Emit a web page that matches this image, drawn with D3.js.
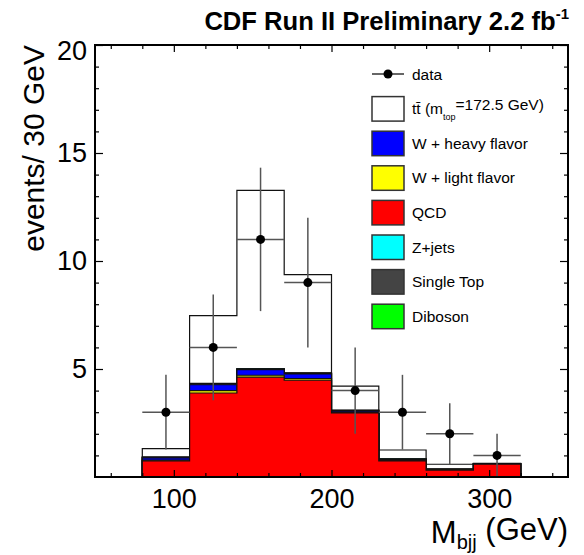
<!DOCTYPE html>
<html>
<head>
<meta charset="utf-8">
<script src="https://cdn.jsdelivr.net/npm/d3@7"></script>
<style>
  body { margin: 0; background: #fff; }
  svg { font-family: "Liberation Sans", Arial, sans-serif; }
</style>
</head>
<body>
<div id="chart"></div>
<script>
// bins of 30 GeV, lower edges
var binLow = [80, 110, 140, 170, 200, 230, 260, 290];
var binWidth = 30;

var dataCounts = [3, 6, 11, 9, 4, 3, 2, 1];
var dataErr = [1.73, 2.45, 3.32, 3.0, 2.0, 1.73, 1.41, 1.0];

// stacked backgrounds, bottom to top
var qcd     = [0.75, 3.89, 4.62, 4.48, 2.97, 0.75, 0.32, 0.60];
var wlf     = [0.03, 0.11, 0.09, 0.07, 0.02, 0.02, 0.01, 0.00];
var whf     = [0.11, 0.27, 0.26, 0.22, 0.06, 0.03, 0.02, 0.01];
var stop    = [0.02, 0.04, 0.03, 0.03, 0.03, 0.03, 0.02, 0.01];
var zjets   = [0.01, 0.01, 0.01, 0.01, 0.01, 0.01, 0.00, 0.00];
var diboson = [0.00, 0.01, 0.01, 0.01, 0.00, 0.00, 0.00, 0.00];
var ttbar   = [0.39, 3.14, 8.25, 4.55, 1.12, 0.41, 0.22, 0.01];

var xMajorTicks = [100, 200, 300];
var xMinorTicks = [60, 80, 120, 140, 160, 180, 220, 240, 260, 280, 320, 340];
var yMajorTicks = [5, 10, 15, 20];
var yMinorTicks = [1, 2, 3, 4, 6, 7, 8, 9, 11, 12, 13, 14, 16, 17, 18, 19];

var layers = [
    { key: "qcd", values: qcd, color: "#ff0000" },
    { key: "wlf", values: wlf, color: "#ffff00" },
    { key: "whf", values: whf, color: "#0000ff" },
    { key: "stop", values: stop, color: "#444444" },
    { key: "zjets", values: zjets, color: "#00ffff" },
    { key: "diboson", values: diboson, color: "#00ff00" },
    { key: "ttbar", values: ttbar, color: "#ffffff" }
];

var legendItems = [
    { label: "tt", color: "#ffffff" },
    { label: "W + heavy flavor", color: "#0000ff" },
    { label: "W + light flavor", color: "#ffff00" },
    { label: "QCD", color: "#ff0000" },
    { label: "Z+jets", color: "#00ffff" },
    { label: "Single Top", color: "#444444" },
    { label: "Diboson", color: "#00ff00" }
];

var width = 584, height = 555;
var margin = { left: 95, top: 45, right: 16, bottom: 78 };
var w = width - margin.left - margin.right,
    h = height - margin.top - margin.bottom;

var svg = d3.select("#chart").append("svg")
    .attr("width", width)
    .attr("height", height);

var g = svg.append("g")
    .attr("transform", "translate(" + margin.left + "," + margin.top + ")");

var x = d3.scaleLinear().domain([50, 350]).range([0, w]);
var y = d3.scaleLinear().domain([0, 20]).range([h, 0]);

// table for the stack
var rows = binLow.map(function (lo, i) {
    var r = { lo: lo };
    layers.forEach(function (l) { r[l.key] = l.values[i]; });
    return r;
});

var stacked = d3.stack().keys(layers.map(function (l) { return l.key; }))(rows);

var area = d3.area()
    .x(function (p) { return x(p[0]); })
    .y0(y(0))
    .y1(function (p) { return y(p[1]); });

function stepPoints(series) {
    var pts = [];
    series.forEach(function (d, i) {
        pts.push([binLow[i], d[1]]);
        pts.push([binLow[i] + binWidth, d[1]]);
    });
    return pts;
}

// draw from the top of the stack down, ROOT style
stacked.slice().reverse().forEach(function (s) {
    var layer = layers.find(function (l) { return l.key === s.key; });
    g.append("path")
        .attr("d", area(stepPoints(s)))
        .attr("fill", layer.color)
        .attr("stroke", "#111")
        .attr("stroke-width", 1.2);
});

// data points with errors
var pts = g.append("g").attr("class", "data");
dataCounts.forEach(function (n, i) {
    var cx = x(binLow[i] + binWidth / 2);
    pts.append("line")
        .attr("x1", x(binLow[i])).attr("x2", x(binLow[i] + binWidth))
        .attr("y1", y(n)).attr("y2", y(n))
        .attr("stroke", "#555").attr("stroke-width", 1.5);
    pts.append("line")
        .attr("x1", cx).attr("x2", cx)
        .attr("y1", y(n + dataErr[i])).attr("y2", y(n - dataErr[i]))
        .attr("stroke", "#555").attr("stroke-width", 1.5);
    pts.append("circle")
        .attr("cx", cx).attr("cy", y(n)).attr("r", 4.5)
        .attr("fill", "#000");
});

// axes
function styleAxis(sel) {
    sel.select(".domain").remove();
    sel.selectAll(".tick line").attr("stroke", "#000").attr("stroke-width", 1.2);
    sel.selectAll("text").attr("font-size", 27).attr("fill", "#000")
        .attr("font-family", "Liberation Sans, Arial, sans-serif");
}

g.append("g").attr("transform", "translate(0," + h + ")")
    .call(d3.axisBottom(x).tickValues(xMajorTicks).tickSizeInner(-7).tickSizeOuter(0).tickPadding(12))
    .call(styleAxis);
g.append("g").attr("transform", "translate(0," + h + ")")
    .call(d3.axisBottom(x).tickValues(xMinorTicks).tickFormat("").tickSizeInner(-4).tickSizeOuter(0))
    .call(styleAxis);
g.append("g")
    .call(d3.axisTop(x).tickValues(xMajorTicks).tickFormat("").tickSizeInner(-7).tickSizeOuter(0))
    .call(styleAxis);
g.append("g")
    .call(d3.axisTop(x).tickValues(xMinorTicks).tickFormat("").tickSizeInner(-4).tickSizeOuter(0))
    .call(styleAxis);

var yAx = g.append("g")
    .call(d3.axisLeft(y).tickValues(yMajorTicks).tickSizeInner(-8).tickSizeOuter(0).tickPadding(8))
    .call(styleAxis);
yAx.selectAll(".tick text").filter(function (d) { return d === 20; }).attr("dy", "0.55em");
g.append("g")
    .call(d3.axisLeft(y).tickValues(yMinorTicks).tickFormat("").tickSizeInner(-4).tickSizeOuter(0))
    .call(styleAxis);
g.append("g").attr("transform", "translate(" + w + ",0)")
    .call(d3.axisRight(y).tickValues(yMajorTicks).tickFormat("").tickSizeInner(-8).tickSizeOuter(0))
    .call(styleAxis);
g.append("g").attr("transform", "translate(" + w + ",0)")
    .call(d3.axisRight(y).tickValues(yMinorTicks).tickFormat("").tickSizeInner(-4).tickSizeOuter(0))
    .call(styleAxis);

// frame
g.append("rect")
    .attr("width", w).attr("height", h)
    .attr("fill", "none").attr("stroke", "#000").attr("stroke-width", 2);

// legend
var lg = svg.append("g").attr("transform", "translate(372,74)");
var rowH = 34.6;
lg.append("line").attr("x1", 0).attr("x2", 32).attr("y1", 0).attr("y2", 0)
    .attr("stroke", "#333").attr("stroke-width", 1.5);
lg.append("circle").attr("cx", 16).attr("cy", 0).attr("r", 4.5).attr("fill", "#000");
lg.append("text").attr("x", 40).attr("y", 0).attr("dy", "0.36em")
    .attr("font-size", 15.5).text("data");

legendItems.forEach(function (d, i) {
    var cy = (i + 1) * rowH;
    lg.append("rect")
        .attr("x", 0).attr("y", cy - 12).attr("width", 32).attr("height", 24.5)
        .attr("fill", d.color).attr("stroke", "#333").attr("stroke-width", 1.5);
    var t = lg.append("text").attr("x", 40).attr("y", cy).attr("dy", "0.36em")
        .attr("font-size", 15.5);
    if (i === 0) {
        t.append("tspan").text("tt\u0304 (m");
        t.append("tspan").attr("font-size", 9).attr("dy", "0.6em").text("top");
        t.append("tspan").attr("dy", "-0.6em").attr("font-size", 15.5).text("=172.5 GeV)");
    } else {
        t.text(d.label);
    }
});

// titles
var title = svg.append("text")
    .attr("x", 569).attr("y", 30)
    .attr("text-anchor", "end")
    .attr("font-size", 25.6).attr("font-weight", "bold");
title.append("tspan").text("CDF Run II Preliminary 2.2 fb");
title.append("tspan").attr("font-size", 15).attr("dy", "-0.75em").text("-1");

svg.append("text")
    .attr("transform", "translate(44," + margin.top + ") rotate(-90)")
    .attr("text-anchor", "end")
    .attr("font-size", 30)
    .text("events/ 30 GeV");

var xt = svg.append("text")
    .attr("x", 568).attr("y", 543)
    .attr("text-anchor", "end")
    .attr("font-size", 31);
xt.append("tspan").text("M");
xt.append("tspan").attr("font-size", 20).attr("dy", "0.3em").text("bjj");
xt.append("tspan").attr("dy", "-0.3em").text(" (GeV)");
</script>
</body>
</html>
